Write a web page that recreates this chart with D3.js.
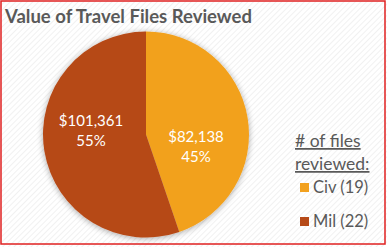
<!DOCTYPE html>
<html>
<head>
<meta charset="utf-8">
<script src="https://cdn.jsdelivr.net/npm/d3@7"></script>
<style>
  body { margin: 0; background: #fff; }
  svg { display: block; font-family: Lato, "Open Sans", sans-serif; }
</style>
</head>
<body>
<svg id="chart"></svg>
<script>
const categories = ["Civ", "Mil"];
const values = [82138, 101361];
const fileCounts = [19, 22];
const colors = ["#F2A11F", "#B64A18"];
const title = "Value of Travel Files Reviewed";

const width = 387, height = 247;
const svg = d3.select("#chart").attr("width", width).attr("height", height);

// striped background
const defs = svg.append("defs");
const pat = defs.append("pattern")
  .attr("id", "stripes")
  .attr("width", 4).attr("height", 4)
  .attr("patternUnits", "userSpaceOnUse")
  .attr("patternTransform", "rotate(-45)");
pat.append("rect").attr("width", 4).attr("height", 4).attr("fill", "#fff");
pat.append("line").attr("x1", 0).attr("y1", 0).attr("x2", 4).attr("y2", 0)
  .attr("stroke", "#e9e9e9").attr("stroke-width", 1.2);

const shadow = defs.append("filter").attr("id", "shadow")
  .attr("x", "-20%").attr("y", "-20%").attr("width", "140%").attr("height", "140%");
shadow.append("feGaussianBlur").attr("in", "SourceAlpha").attr("stdDeviation", 3);
shadow.append("feOffset").attr("dx", 0).attr("dy", 1).attr("result", "blur");
shadow.append("feComponentTransfer").append("feFuncA").attr("type", "linear").attr("slope", 0.35);
const merge = shadow.append("feMerge");
merge.append("feMergeNode");
merge.append("feMergeNode").attr("in", "SourceGraphic");

svg.append("rect").attr("width", width).attr("height", height).attr("fill", "url(#stripes)");
svg.append("rect")
  .attr("x", 1).attr("y", 1).attr("width", 384).attr("height", 243)
  .attr("fill", "none").attr("stroke", "#e02020").attr("stroke-width", 1.5);

// title
svg.append("text")
  .attr("x", 5).attr("y", 23)
  .attr("font-size", 18.5).attr("font-weight", "bold")
  .attr("fill", "#595959")
  .text(title);

// pie
const cx = 146, cy = 134.5, r = 103;
const data = categories.map((c, i) => ({ cat: c, value: values[i], count: fileCounts[i], color: colors[i] }));
const total = d3.sum(values);
const pie = d3.pie().sort(null).value((d) => d.value);
const arc = d3.arc().innerRadius(0).outerRadius(r);
const arcs = pie(data);

const g = svg.append("g").attr("transform", "translate(" + cx + "," + cy + ")");
g.append("g").attr("filter", "url(#shadow)")
  .selectAll("path")
  .data(arcs)
  .enter()
  .append("path")
  .attr("d", arc)
  .attr("fill", (d) => d.data.color);

// slice labels
const labelPos = [[50, 7], [-55, -9]];
const fmt = d3.format("$,");
const lbl = g.selectAll(".slice-label")
  .data(arcs)
  .enter()
  .append("text")
  .attr("class", "slice-label")
  .attr("text-anchor", "middle")
  .attr("fill", "#fff")
  .attr("font-size", 15)
  .attr("transform", (d, i) => "translate(" + labelPos[i][0] + "," + labelPos[i][1] + ")");
lbl.append("tspan").attr("x", 0).attr("y", 0).text((d) => fmt(d.data.value));
lbl.append("tspan").attr("x", 0).attr("y", 20)
  .text((d) => Math.round((d.data.value / total) * 100) + "%");

// legend
const leg = svg.append("g").attr("fill", "#595959");
leg.append("text").attr("x", 295).attr("y", 147).attr("font-size", 17.5)
  .attr("text-decoration", "underline").text("# of files");
leg.append("text").attr("x", 295).attr("y", 170).attr("font-size", 17.5)
  .attr("text-decoration", "underline").text("reviewed:");
const items = leg.selectAll(".leg-item")
  .data(data)
  .enter()
  .append("g")
  .attr("class", "leg-item")
  .attr("transform", (d, i) => "translate(300," + (183 + i * 34) + ")");
items.append("rect").attr("width", 9).attr("height", 9).attr("fill", (d) => d.color);
items.append("text").attr("x", 13).attr("y", 10).attr("font-size", 16.5)
  .text((d) => d.cat + " (" + d.count + ")");
</script>
</body>
</html>
